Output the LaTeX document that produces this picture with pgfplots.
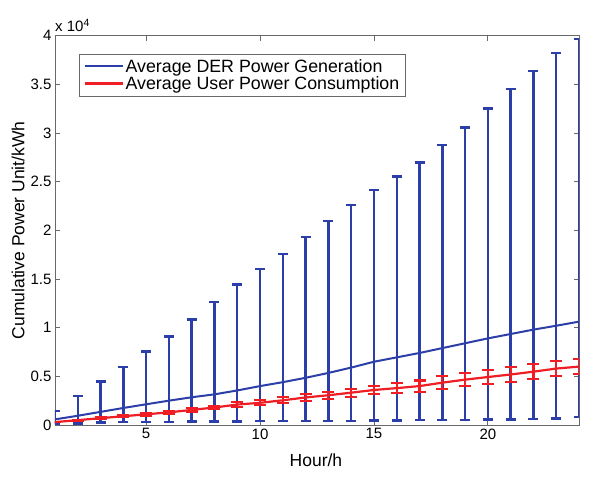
\documentclass[border=0pt]{standalone}
\usepackage{fontspec}
\setmainfont{Liberation Sans}
\usepackage{pgfplots}
\usepackage{pgfplotstable}
\pgfplotsset{compat=1.18}
\definecolor{derblue}{RGB}{44,62,168}
\definecolor{userred}{RGB}{238,30,36}
\definecolor{frame}{RGB}{105,105,105}

% blue: mean, upper and lower end of the bar
\pgfplotstableread{
x m up lo
1 580 1440 100
2 950 2980 150
3 1350 4490 250
4 1750 5990 280
5 2130 7540 300
6 2500 9110 320
7 2850 10860 340
8 3150 12640 350
9 3550 14420 380
10 4000 16000 400
11 4400 17570 410
12 4850 19290 410
13 5350 20970 420
14 5900 22600 420
15 6500 24120 450
16 6950 25520 470
17 7400 26960 490
18 7900 28780 500
19 8400 30560 520
20 8900 32500 550
21 9350 34500 580
22 9800 36400 620
23 10200 38200 650
24 10620 39640 800
}\derdata

% red: mean and half width
\pgfplotstableread{
x m e
1 300 30
2 500 50
3 700 70
4 900 90
5 1100 120
6 1300 170
7 1550 170
8 1800 170
9 2100 230
10 2280 260
11 2540 310
12 2830 360
13 3060 360
14 3320 410
15 3600 400
16 3790 530
17 4000 570
18 4350 680
19 4660 650
20 4930 720
21 5190 740
22 5480 760
23 5800 760
24 6000 750
}\userdata

\begin{document}
\begin{tikzpicture}
\begin{axis}[
    at={(0pt,0pt)}, anchor=south west,
    scale only axis,
    width=524pt, height=389.3pt,
    xmin=1, xmax=24, ymin=0, ymax=40000,
    xtick={5,10,15,20},
    ytick={0,5000,...,40000},
    scaled y ticks=base 10:-4,
    ytick scale label code/.code={x 10\textsuperscript{4}},
    every y tick scale label/.style={at={(rel axis cs:0,1)}, anchor=south west,
        inner sep=0pt, yshift=4pt, font=\fontsize{15}{17}\selectfont},
    /pgf/number format/assume math mode=true,
    tick label style={font=\fontsize{15}{17}\selectfont},
    label style={font=\fontsize{17.5}{20}\selectfont},
    xlabel={Hour/h},
    ylabel={Cumulative Power Unit/kWh},
    xlabel style={at={(axis description cs:0.498,-0.09)}, anchor=center},
    ylabel style={at={(axis description cs:-0.0706,0.5)}, anchor=center},
    tick align=inside,
    major tick length=5pt,
    axis line style={frame, line width=0.8pt},
    tick style={frame, line width=0.8pt},
    legend style={at={(rel axis cs:0.0458,0.953)}, anchor=north west,
        draw=frame, line width=0.8pt, font=\fontsize{17.8}{20}\selectfont,
        inner xsep=4pt, inner ysep=3pt, row sep=-1pt, cells={anchor=west}},
    legend image code/.code={\draw[#1] (0pt,0.5pt) -- (38pt,0.5pt);},
]
\addlegendimage{derblue, line width=2.2pt}
\addlegendentry{Average DER Power Generation}
\addlegendimage{userred, line width=2.2pt}
\addlegendentry{Average User Power Consumption}
\addplot[derblue, line width=2pt, mark=none, forget plot,
    error bars/.cd, y dir=both, y explicit,
    error bar style={derblue, line width=2.4pt},
    error mark options={derblue, rotate=90, mark size=5pt, line width=2.4pt}]
    table[x=x, y=m, y error plus expr=\thisrow{up}-\thisrow{m},
          y error minus expr=\thisrow{m}-\thisrow{lo}] {\derdata};
\addplot[userred, line width=2.2pt, mark=none, forget plot,
    error bars/.cd, y dir=both, y explicit,
    error bar style={userred, line width=2.2pt},
    error mark options={userred, rotate=90, mark size=6pt, line width=2.2pt}]
    table[x=x, y=m, y error=e] {\userdata};
\end{axis}
\pgfresetboundingbox
\path[use as bounding box] (-55pt,-55pt) rectangle (547pt,425pt);
\end{tikzpicture}
\end{document}
